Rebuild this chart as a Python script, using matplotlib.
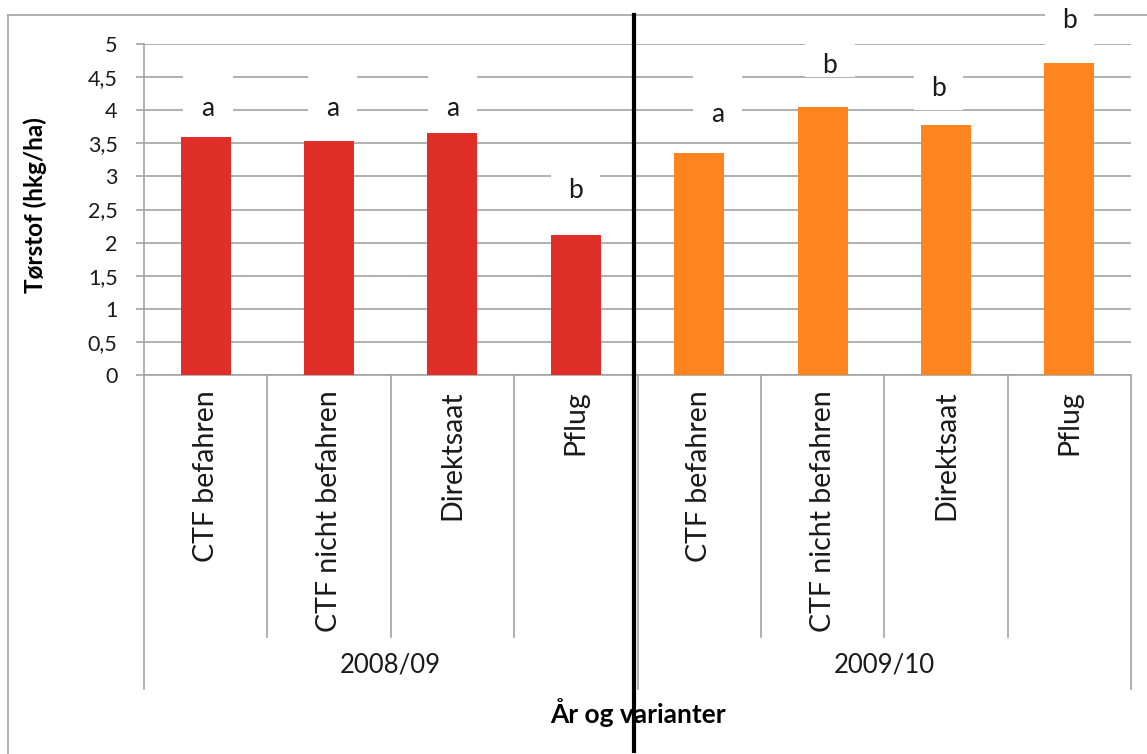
import matplotlib
matplotlib.use("Agg")
import matplotlib.pyplot as plt
from matplotlib.patches import Rectangle
from matplotlib.lines import Line2D

# ---------------- data ----------------
groups = ["2008/09", "2009/10"]
varianter = ["CTF befahren", "CTF nicht befahren", "Direktsaat", "Pflug"]
values_2008 = [3.60, 3.54, 3.66, 2.12]
values_2009 = [3.35, 4.05, 3.77, 4.72]
sig_letters = ["a", "a", "a", "b", "a", "b", "b", "b"]
yticks = [0, 0.5, 1, 1.5, 2, 2.5, 3, 3.5, 4, 4.5, 5]
ytick_labels = ["0", "0,5", "1", "1,5", "2", "2,5", "3", "3,5", "4", "4,5", "5"]
ylabel = "Tørstof (hkg/ha)"
xlabel = "År og varianter"

# ---------------- layout (annotation placement) ----------------
letter_dx = [0.02, 0.03, 0.0, 0.0, 0.15, 0.06, -0.06, 0.0]
letter_y = [4.03, 4.03, 4.03, 2.79, 3.93, 4.68, 4.33, 5.35]
box_lo = [3.75, 3.75, 3.75, 2.60, 3.70, 4.50, 4.00, 4.90]
box_hi = [4.60, 4.60, 4.60, 3.10, 4.52, 5.10, 4.60, 5.60]

W, H = 1147, 754
red = "#E02F28"
orange = "#FD841E"
grid_c = "#a3a3a3"
txt_c = "#1a1a1a"
FONT = "Lato"

plt.rcParams["font.family"] = [FONT, "DejaVu Sans"]

fig = plt.figure(figsize=(W / 100, H / 100), dpi=100)
ax_l, ax_r, ax_t, ax_b = 144, 1131, 44, 375
ax = fig.add_axes([ax_l / W, 1 - ax_b / H, (ax_r - ax_l) / W, (ax_b - ax_t) / H])

values = values_2008 + values_2009
colors = [red] * len(values_2008) + [orange] * len(values_2009)
labels = varianter + varianter
x = list(range(len(values)))

ax.bar(x, values, width=0.405, color=colors, zorder=3)
ax.set_xlim(-0.5, len(values) - 0.5)
ax.set_ylim(0, 5)
ax.set_yticks(yticks)
ax.set_yticklabels(ytick_labels, fontsize=15.5, color=txt_c)
ax.set_axisbelow(True)
ax.yaxis.grid(True, color=grid_c, linewidth=1.2)
ax.tick_params(axis="y", length=6, width=1.2, color=grid_c, pad=13)
ax.set_xticks([])
for s in ["top", "right"]:
    ax.spines[s].set_visible(False)
for s in ["left", "bottom"]:
    ax.spines[s].set_color(grid_c)
    ax.spines[s].set_linewidth(1.2)

axh = ax_b - ax_t
def yfrac(py):
    return (ax_b - py) / axh

ax.set_ylabel(ylabel, fontsize=17.5, fontweight="bold", color="black")
ax.yaxis.set_label_coords((47 - ax_l) / (ax_r - ax_l), yfrac(205))

# significance letters with white boxes
for i, (v, t) in enumerate(zip(values, sig_letters)):
    cx = i + letter_dx[i]
    ax.add_patch(Rectangle((cx - 0.2, box_lo[i]), 0.4, box_hi[i] - box_lo[i],
                           facecolor="white", edgecolor="none", zorder=2.5, clip_on=False))
    ax.text(cx, letter_y[i], t, ha="center", va="center", fontsize=19,
            color=txt_c, zorder=4, clip_on=False)

# category labels and separators
trans = ax.get_xaxis_transform()
for i, lab in enumerate(labels):
    ax.text(i, yfrac(390), lab, rotation=90, ha="center", va="top",
            fontsize=20.5, color=txt_c, transform=trans, clip_on=False)
n_per = len(varianter)
for k in range(len(values) + 1):
    bottom = 689 if k % n_per == 0 else 637
    ax.add_line(Line2D([k - 0.5, k - 0.5], [0, yfrac(bottom)], transform=trans,
                       color=grid_c, linewidth=1.2, clip_on=False))
for g, name in enumerate(groups):
    ax.text(g * n_per + (n_per - 1) / 2, yfrac(665), name, ha="center", va="center",
            fontsize=18.5, color=txt_c, transform=trans, clip_on=False)

ax.text(0.5, yfrac(713), xlabel, ha="center", va="center", fontsize=19,
        fontweight="bold", color="black", transform=ax.transAxes, clip_on=False)

# chart border (left and top) and black divider line
fig.add_artist(Line2D([8 / W, 8 / W], [0, 1 - 15 / H], color=grid_c, linewidth=1.2, zorder=-1))
fig.add_artist(Line2D([8 / W, 1], [1 - 15 / H, 1 - 15 / H], color=grid_c, linewidth=1.2, zorder=-1))
fig.add_artist(Line2D([634 / W, 634 / W], [1 - 751 / H, 1 - 15 / H], color="black", linewidth=3, zorder=5))

fig.savefig("out.png", dpi=100)
